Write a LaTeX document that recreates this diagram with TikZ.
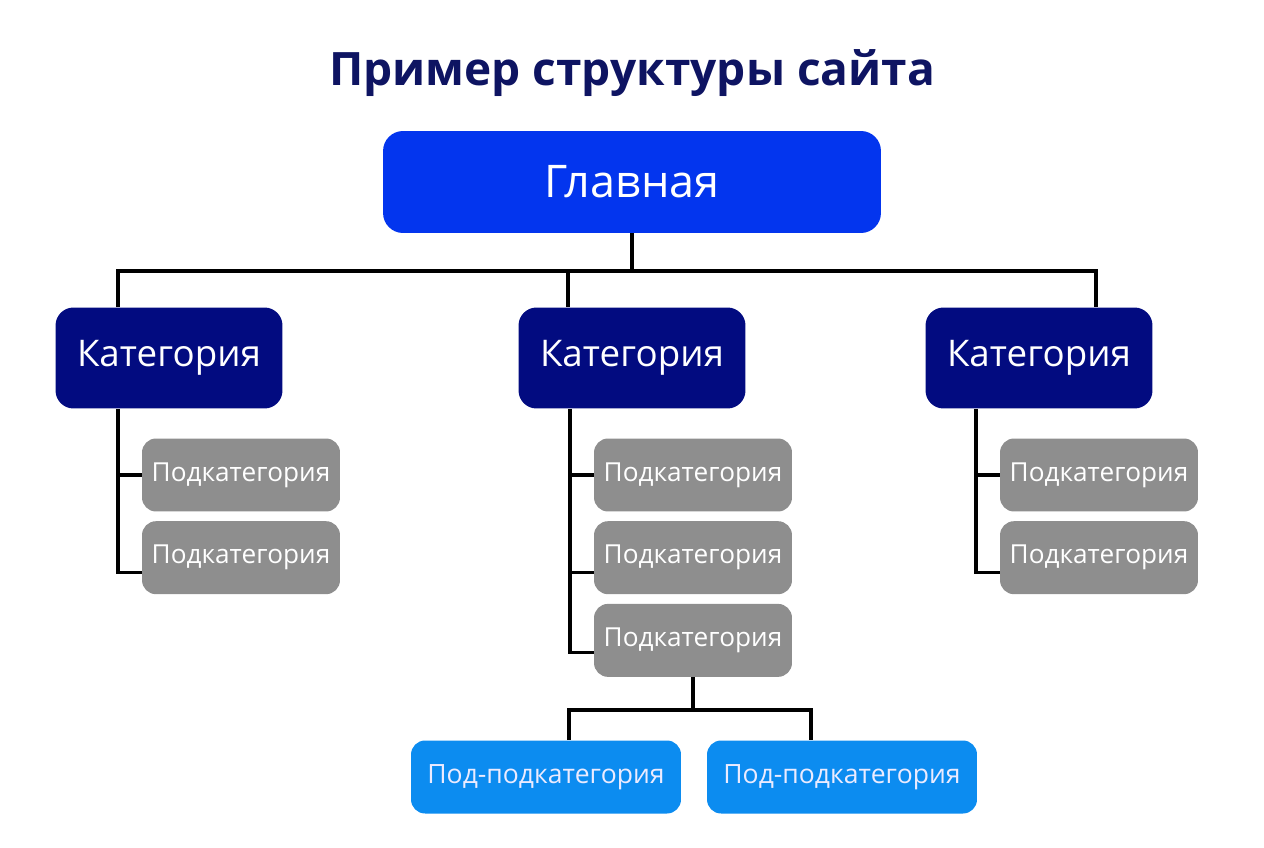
\documentclass[tikz,border=0pt]{standalone}
\usepackage{fontspec}
\setmainfont{Open Sans}
\usepackage{xcolor}
\usetikzlibrary{positioning, calc}

\definecolor{titleblue}{HTML}{0E1462}
\definecolor{homeblue}{HTML}{0335EE}
\definecolor{catnavy}{HTML}{020B80}
\definecolor{subgray}{HTML}{8E8E8E}
\definecolor{leafblue}{HTML}{0C8CF0}

\begin{document}
\begin{tikzpicture}[
    x=0.02cm, y=-0.02cm,
    box/.style={rectangle, fill=#1, text=white, inner sep=0pt},
    homebox/.style={box=homeblue, minimum width=9.96cm, minimum height=2.04cm, rounded corners=0.4cm, font=\fontsize{25.6}{30}\selectfont},
    catbox/.style={box=catnavy, minimum width=4.54cm, minimum height=2.02cm, rounded corners=0.36cm, font=\fontsize{20.9}{24}\selectfont},
    subbox/.style={box=subgray, minimum width=3.96cm, minimum height=1.46cm, rounded corners=0.28cm, font=\fontsize{14.9}{18}\selectfont},
    leafbox/.style={box=leafblue, text=blue!8, minimum width=5.4cm, minimum height=1.46cm, rounded corners=0.28cm, font=\fontsize{15.1}{18}\selectfont},
    link/.style={draw=black, line width=2pt}
]
    \useasboundingbox (0,0) rectangle (1264,848);

    % Title
    \node[anchor=base, text=titleblue, font=\bfseries\fontsize{26.2}{30}\selectfont] (title) at (632,86) {Пример структуры сайта};

    % Home
    \node[homebox] (home) at (632,182) {Главная};

    % Categories
    \node[catbox] (catA) at (169,358) {Категория};
    \node[catbox] (catB) at (632,358) {Категория};
    \node[catbox] (catC) at (1039,358) {Категория};

    % Subcategories
    \node[subbox] (subA1) at (241,475) {Подкатегория};
    \node[subbox, below=0.18cm of subA1] (subA2) {Подкатегория};
    \node[subbox] (subB1) at (693,475) {Подкатегория};
    \node[subbox, below=0.18cm of subB1] (subB2) {Подкатегория};
    \node[subbox, below=0.18cm of subB2] (subB3) {Подкатегория};
    \node[subbox] (subC1) at (1099,475) {Подкатегория};
    \node[subbox, below=0.18cm of subC1] (subC2) {Подкатегория};

    % Sub-subcategories
    \node[leafbox] (leaf1) at (546,777) {Под-подкатегория};
    \node[leafbox] (leaf2) at (842,777) {Под-подкатегория};

    % Bus lines
    \coordinate (busL) at (118,271);
    \coordinate (busM) at (568,271);
    \coordinate (busR) at (1096,271);
    \coordinate (trA) at (118,0);
    \coordinate (trB) at (570,0);
    \coordinate (trC) at (976,0);
    \coordinate (leafL) at (569,710);
    \coordinate (leafR) at (811,710);

    % Arrows
    \draw[link] (home.south) -- (home.south |- busL);
    \draw[link] (catA.north -| busL) |- (busR) -- (catC.north -| busR);
    \draw[link] (busM) -- (catB.north -| busM);
    \draw[link] (catA.south -| trA) |- ($(subA2.west)+(0,15)$);
    \draw[link] (subA1.west -| trA) -- (subA1.west);
    \draw[link] (catB.south -| trB) |- ($(subB3.west)+(0,12)$);
    \draw[link] (subB1.west -| trB) -- (subB1.west);
    \draw[link] ($(subB2.west -| trB)+(0,15)$) -- ($(subB2.west)+(0,15)$);
    \draw[link] (catC.south -| trC) |- ($(subC2.west)+(0,15)$);
    \draw[link] (subC1.west -| trC) -- (subC1.west);
    \draw[link] (subB3.south) -- (subB3.south |- leafL);
    \draw[link] (leaf1.north -| leafL) |- (leafR) -- (leaf2.north -| leafR);
\end{tikzpicture}
\end{document}
